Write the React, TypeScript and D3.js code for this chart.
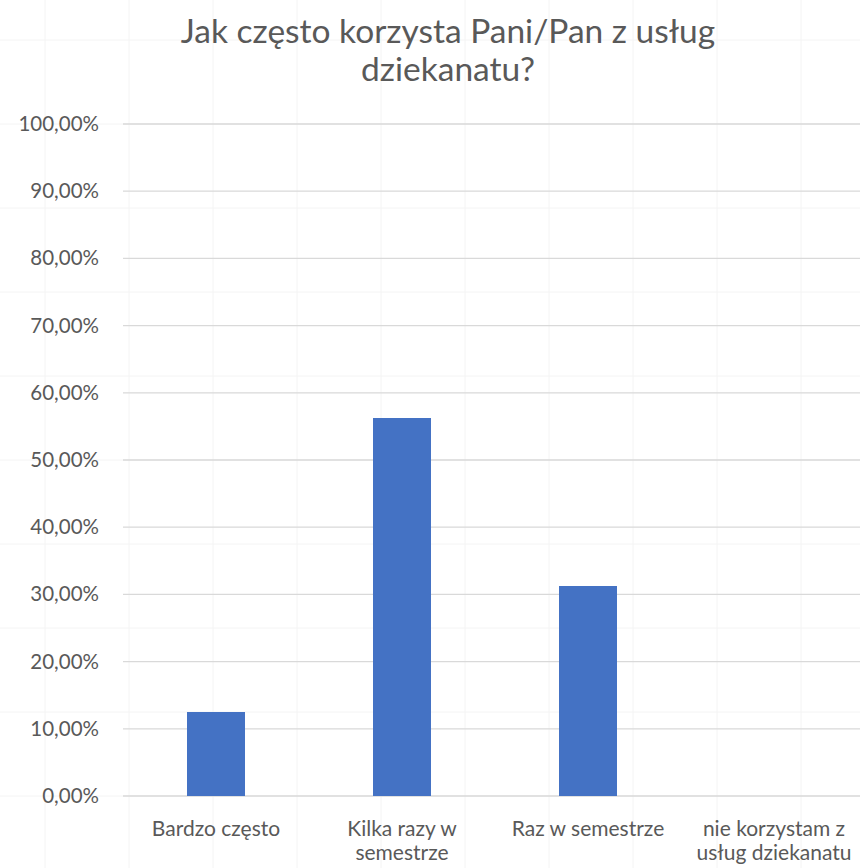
import React from "react";
import * as d3 from "d3";

const categories = ["Bardzo często", "Kilka razy w semestrze", "Raz w semestrze", "nie korzystam z usług dziekanatu"];
const categoryLines = [["Bardzo często"], ["Kilka razy w", "semestrze"], ["Raz w semestrze"], ["nie korzystam z", "usług dziekanatu"]];
const values = [0.125, 0.5625, 0.3125, 0];
const yTicks = [0, 0.1, 0.2, 0.3, 0.4, 0.5, 0.6, 0.7, 0.8, 0.9, 1.0];
const titleLines = ["Jak często korzysta Pani/Pan z usług", "dziekanatu?"];

const W = 860, H = 868;
const FONT = "Lato, 'Open Sans', sans-serif";

export default function App() {
  const x = d3.scaleBand<string>().domain(categories).range([123, 867]).paddingInner(0).paddingOuter(0);
  const y = d3.scaleLinear().domain([0, 1]).range([796, 124]);
  const barW = 58;
  const fmt = (v: number) => (v * 100).toFixed(2).replace(".", ",") + "%";
  const bgCols = d3.range(0, 11).map((i) => 45 + 84 * i);
  const bgRows = d3.range(0, 11).map((i) => 40 + 84 * i);
  return (
    <svg width={W} height={H} style={{ position: "absolute", left: 0, top: 0, background: "#fff" }}>
      <rect width={W} height={H} fill="#fff" />
      {bgCols.map((c) => (
        <line key={"c" + c} x1={c} x2={c} y1={0} y2={H} stroke="#f4f4f4" strokeWidth={1} />
      ))}
      {bgRows.map((r) => (
        <line key={"r" + r} x1={0} x2={W} y1={r} y2={r} stroke="#f4f4f4" strokeWidth={1} />
      ))}
      {titleLines.map((t, i) => (
        <text key={t} x={448} y={43 + i * 38} textAnchor="middle" fontFamily={FONT} fontSize={33.5} fill="#595959">
          {t}
        </text>
      ))}
      {yTicks.map((t) => (
        <g key={t}>
          <line x1={123} x2={W} y1={y(t)} y2={y(t)} stroke="#d9d9d9" strokeWidth={1.3} />
          <text x={99} y={y(t) + 7} textAnchor="end" fontFamily={FONT} fontSize={20.5} fill="#595959">
            {fmt(t)}
          </text>
        </g>
      ))}
      {categories.map((c, i) => {
        const cx = (x(c) as number) + x.bandwidth() / 2;
        return (
          <g key={c}>
            {values[i] > 0 && (
              <rect x={cx - barW / 2} y={y(values[i])} width={barW} height={y(0) - y(values[i])} fill="#4472c4" />
            )}
            {categoryLines[i].map((l, j) => (
              <text key={l} x={cx} y={836 + j * 24} textAnchor="middle" fontFamily={FONT} fontSize={21} fill="#595959">
                {l}
              </text>
            ))}
          </g>
        );
      })}
    </svg>
  );
}
